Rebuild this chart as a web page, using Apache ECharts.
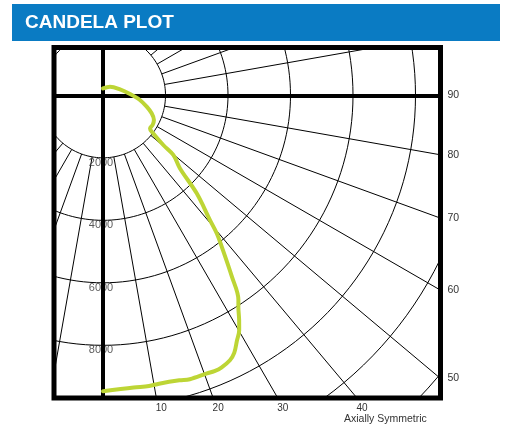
<!DOCTYPE html>
<html>
<head>
<meta charset="utf-8">
<script src="https://cdn.jsdelivr.net/npm/echarts@6/dist/echarts.min.js"></script>
<style>
html,body{margin:0;padding:0;background:#fff;}
#chart{width:505px;height:425px;}
</style>
</head>
<body>
<div id="chart"></div>
<script>
// ---- data ----
var title = 'CANDELA PLOT';
var note = 'Axially Symmetric';
// candela curve: angle from nadir (deg) and intensity (cd)
var curveAngles = [0, 6, 9, 11, 15, 17, 20.5, 22, 23.5, 25.6, 27, 28.6, 30.1, 31.2, 32.6, 33.5, 35.4, 38.1, 39.5, 40.6, 43.7, 46.5, 49.7, 50.5, 53.2, 54.9, 59.1, 64.2, 69.7, 75.4, 82.8, 92.8, 109.4, 140.9, 180];
var curveCandela = [9470, 9400, 9420, 9400, 9440, 9500, 9500, 9520, 9500, 9400, 9250, 8950, 8690, 8410, 8040, 7850, 7120, 6160, 5720, 5260, 4340, 3390, 2950, 2500, 1950, 1840, 1850, 1810, 1660, 1445, 1190, 865, 577, 355, 220];
// grid rings (cd) and radial spokes (deg)
var ringValues = [2000, 4000, 6000, 8000, 10000, 12000, 14000];
var ringLabels = [2000, 4000, 6000, 8000];
var spokeAngles = [10, 20, 30, 40, 50, 60, 70, 80, 100, 110, 120, 130, 140, 150, 160, 170, 190, 200, 210, 220, 230, 240, 250, 260, 280, 290, 300, 310, 320, 330, 340, 350];
var rightTickAngles = [90, 80, 70, 60, 50];
var bottomTickAngles = [10, 20, 30, 40];

// ---- geometry (cd units) ----
var X_MIN = -1568, X_MAX = 10800, Y_MIN = -9686, Y_MAX = 1530;
var D = Math.PI / 180;
function pt(angleDeg, cd) { return [cd * Math.sin(angleDeg * D), -cd * Math.cos(angleDeg * D)]; }

var curveData = curveAngles.map(function (a, i) { return pt(a, curveCandela[i]); });

var series = [];
ringValues.forEach(function (r) {
  var d = [];
  for (var a = 0; a <= 360; a += 2) d.push(pt(a, r));
  series.push({ type: 'line', data: d, symbol: 'none', silent: true, z: 1,
    lineStyle: { color: '#000', width: 1 }, xAxisIndex: 0, yAxisIndex: 0 });
});
spokeAngles.forEach(function (a) {
  series.push({ type: 'line', data: [pt(a, 2000), pt(a, 16000)], symbol: 'none', silent: true, z: 1,
    lineStyle: { color: '#000', width: 1 }, xAxisIndex: 0, yAxisIndex: 0 });
});
series.push({
  type: 'scatter', z: 2, symbolSize: 0, silent: true,
  data: ringLabels.map(function (v) { return { value: [0, -v], name: String(v) }; }),
  label: { show: true, position: 'inside', offset: [-2, 5], formatter: '{b}', color: '#333',
    fontFamily: 'Liberation Sans, Arial, sans-serif', fontSize: 11 }
});
series.push({
  type: 'line', z: 5, data: curveData, symbol: 'none', smooth: 0.35, silent: true,
  lineStyle: { color: '#bdd535', width: 4, cap: 'round', join: 'round' }
});

var rightVals = rightTickAngles.map(function (a) { return -X_MAX / Math.tan(a * D); });
var bottomVals = bottomTickAngles.map(function (a) { return -Y_MIN * Math.tan(a * D); });

var chart = echarts.init(document.getElementById('chart'));
chart.setOption({
  animation: false,
  backgroundColor: '#fff',
  grid: { left: 54, top: 47.5, right: 64.5, bottom: 27, show: true, borderColor: '#000', borderWidth: 5, backgroundColor: '#fff' },
  xAxis: [
    { type: 'value', min: X_MIN, max: X_MAX, z: 3,
      axisLine: { onZero: true, lineStyle: { color: '#000', width: 4 } },
      axisTick: { show: false }, axisLabel: { show: false }, splitLine: { show: false } },
    { type: 'value', min: X_MIN, max: X_MAX, position: 'bottom',
      axisLine: { show: false, onZero: false }, axisTick: { show: false }, splitLine: { show: false },
      axisLabel: { customValues: bottomVals, margin: 5, color: '#333', fontSize: 10, padding: [0, 0, 0, 10],
        fontFamily: 'Liberation Sans, Arial, sans-serif',
        formatter: function (v) { return String(Math.round(Math.atan(v / -Y_MIN) / D)); } } }
  ],
  yAxis: [
    { type: 'value', min: Y_MIN, max: Y_MAX, z: 3,
      axisLine: { onZero: true, lineStyle: { color: '#000', width: 4 } },
      axisTick: { show: false }, axisLabel: { show: false }, splitLine: { show: false } },
    { type: 'value', min: Y_MIN, max: Y_MAX, position: 'right',
      axisLine: { show: false, onZero: false }, axisTick: { show: false }, splitLine: { show: false },
      axisLabel: { customValues: rightVals, margin: 7, color: '#333', fontSize: 10.5,
        fontFamily: 'Liberation Sans, Arial, sans-serif',
        formatter: function (v) { return String(Math.round(90 - Math.atan(-v / X_MAX) / D)); } } }
  ],
  graphic: [
    { type: 'rect', left: 12, top: 4, shape: { width: 488, height: 37 }, style: { fill: '#0a7bc3' }, z: 10 },
    { type: 'text', left: 25, top: 13, z: 11,
      style: { text: title, fill: '#fff', font: 'bold 19px "Liberation Sans", Arial, sans-serif' } },
    { type: 'text', left: 344, top: 413.5, z: 11,
      style: { text: note, fill: '#333', font: '10.5px "Liberation Sans", Arial, sans-serif' } }
  ],
  series: series
});
</script>
</body>
</html>
